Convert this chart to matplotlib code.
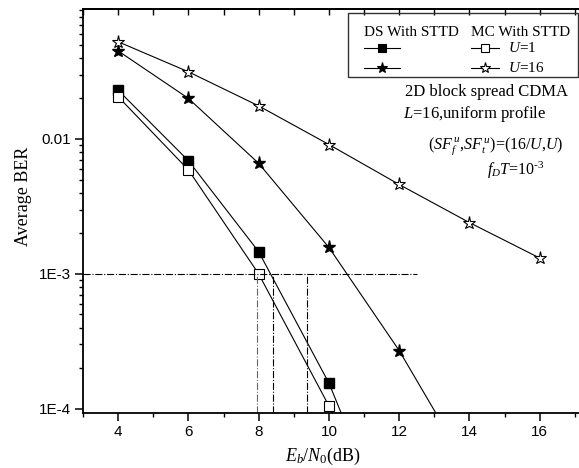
import matplotlib
matplotlib.use('Agg')
import matplotlib.pyplot as plt
from matplotlib.lines import Line2D
from matplotlib.patches import Rectangle
from matplotlib.transforms import Affine2D
from matplotlib.ticker import FixedLocator, NullFormatter, LogLocator

plt.rcParams['font.family'] = ['Liberation Serif', 'DejaVu Serif']
plt.rcParams['mathtext.fontset'] = 'custom'
plt.rcParams['mathtext.rm'] = 'Liberation Serif'
plt.rcParams['mathtext.it'] = 'Liberation Serif:italic'

# 数据 (Eb/N0, dB)
snr_db = [4, 6, 8, 10, 12]
ds_u1 = [0.023, 0.0069, 0.00146, 1.55e-4, 8.3e-6]
mc_u1 = [0.0206, 0.0059, 0.001, 1.05e-4, 6.6e-6]

snr_db_16 = [4, 6, 8, 10, 12, 14]
ds_u16 = [0.045, 0.020, 0.0066, 0.00157, 2.7e-4, 3.5e-5]

snr_db_mc16 = [4, 6, 8, 10, 12, 14, 16]
mc_u16 = [0.0526, 0.0315, 0.0176, 0.0091, 0.0046, 0.0024, 0.00131]

# 1E-3 处的参考线
ber_ref = 1e-3
ref_x_end = 12.5
cross_db = [7.96, 8.41, 9.38]
cross_colors = ['#666666', 'black', 'black']

W, H = 579, 468
fig = plt.figure(figsize=(W / 100, H / 100), dpi=100)
ax = fig.add_axes([83 / W, 1 - 413 / H, 509.4 / W, 404 / H])

ax.set_yscale('log')
ax.set_xlim(3, 17.5)
ax.set_ylim(9.3e-5, 0.092)

lk = dict(color='black', lw=0.8)
ax.plot(snr_db, ds_u1, marker='s', ms=6.5, mfc='black', mec='black', **lk)
ax.plot(snr_db, mc_u1, marker='s', ms=6.5, mfc='white', mec='black', mew=0.8, **lk)
ax.plot(snr_db_16, ds_u16, marker='*', ms=9.5, mfc='black', mec='black', **lk)
ax.plot(snr_db_mc16, mc_u16, marker='*', ms=9.5, mfc='white', mec='black', mew=0.8, **lk)

ax.plot([3, ref_x_end], [ber_ref, ber_ref], color='black', lw=0.8, ls='-.')
for xc, c in zip(cross_db, cross_colors):
    ax.plot([xc, xc], [9.3e-5, ber_ref], color=c, lw=0.8, ls='-.')

# 坐标轴刻度
ax.xaxis.set_major_locator(FixedLocator([4, 6, 8, 10, 12, 14, 16]))
ax.xaxis.set_minor_locator(FixedLocator([3, 5, 7, 9, 11, 13, 15, 17]))
ax.yaxis.set_major_locator(FixedLocator([1e-4, 1e-3, 1e-2]))
ax.yaxis.set_minor_locator(LogLocator(base=10, subs=range(2, 10)))
ax.yaxis.set_minor_formatter(NullFormatter())
ax.set_yticklabels(['1E-4', '1E-3', '0.01'])
for lab in ax.get_xticklabels() + ax.get_yticklabels():
    lab.set_family('Liberation Sans')
    lab.set_fontsize(11)
ax.tick_params(which='major', length=6, width=1.1, direction='out', pad=3)
ax.tick_params(which='minor', length=3, width=1.0, direction='out')
for s in ax.spines.values():
    s.set_linewidth(1.3)

# 顶部刻度（向内）
top = ax.secondary_xaxis('top')
top.xaxis.set_major_locator(FixedLocator(list(range(3, 18))))
top.tick_params(direction='in', length=4, width=1.0, labeltop=False)
top.spines['top'].set_linewidth(1.3)

ax.set_ylabel('Average BER', fontsize=13)
ax.yaxis.set_label_coords(-0.10, 0.537)
ax.set_xlabel(r'$E_b/N_0$(dB)', fontsize=13)
ax.xaxis.set_label_coords(0.471, -0.082)

# 像素坐标（左上角为原点）
pxt = Affine2D().scale(1 / W, -1 / H).translate(0, 1) + fig.transFigure

fig.add_artist(Rectangle((348, 13), 230, 64, transform=pxt, fill=False,
                         ec='#333333', lw=1.0))
fig.text(364, 32, 'DS With STTD', transform=pxt, fontsize=11, va='center')
fig.text(471, 32, 'MC With STTD', transform=pxt, fontsize=11, va='center')

legend_rows = [
    (364, 400, 48, 's', 'black', 6, None),
    (364, 400, 68, '*', 'black', 8, None),
    (471, 499, 48, 's', 'white', 5.5, r'$U$=1'),
    (471, 499, 68, '*', 'white', 8, r'$U$=16'),
]
for x0, x1, y, mk, fc, ms, txt in legend_rows:
    fig.add_artist(Line2D([x0, x1], [y, y], transform=pxt, color='black', lw=0.8))
    fig.add_artist(Line2D([(x0 + x1) / 2], [y], transform=pxt, marker=mk, ms=ms,
                          mfc=fc, mec='black', mew=0.8, ls='none'))
    if txt:
        fig.text(x1 + 9, y, txt, transform=pxt, fontsize=11, va='center')

fig.text(405, 92, '2D block spread CDMA', transform=pxt, fontsize=12, va='center')
fig.text(403, 114, r'$L$=16,uniform profile', transform=pxt, fontsize=12, va='center')
fig.text(428, 146, r'($SF_f^{\,u}$,$SF_t^{\,u}$)=(16/$U$,$U$)', transform=pxt,
         fontsize=11.5, va='center')
fig.text(487, 170, r'$f_DT$=10$^{\text{-}3}$', transform=pxt, fontsize=11.5, va='center')

fig.savefig('out.png', dpi=100)
